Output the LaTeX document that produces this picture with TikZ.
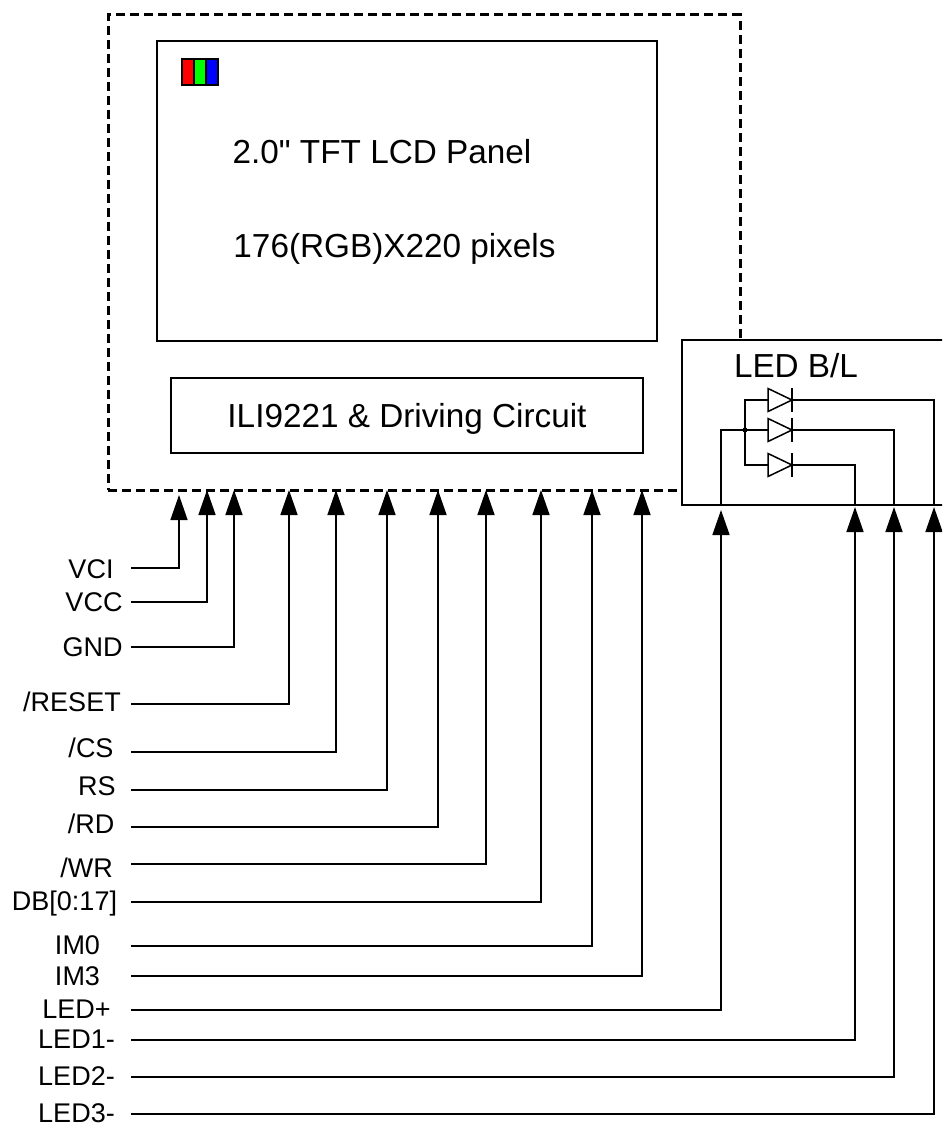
\documentclass[tikz,border=0pt]{standalone}
\usepackage{fontspec}
\setmainfont{Liberation Sans}
\newfontfamily\rawquote{Liberation Sans}
\usepackage{tikz}
\usetikzlibrary{arrows.meta,positioning,shapes.geometric,calc}
\definecolor{StripeRed}{HTML}{FF0000}
\definecolor{StripeGreen}{HTML}{00FF00}
\definecolor{StripeBlue}{HTML}{0000FF}
\tikzset{
  boxed/.style={draw=black, line width=1.5pt, inner sep=0pt, outer sep=0pt},
  pin/.style={font=\fontsize{27}{27}\selectfont, inner sep=0pt, text height=19.3pt, text depth=0pt},
  title/.style={font=\fontsize{33.3}{33.3}\selectfont, inner sep=0pt, text height=23.8pt, text depth=0pt},
  stripe/.style={draw=black, line width=1.2pt, inner sep=0pt, outer sep=0pt, minimum width=12pt, minimum height=26pt},
  wire/.style={line width=1.5pt, -{Triangle[length=25pt,width=17pt]}},
  trace/.style={line width=1.5pt},
  diode/.style={draw=black, line width=1.5pt, isosceles triangle, isosceles triangle stretches, inner sep=0pt, outer sep=0pt, minimum width=23pt, minimum height=24pt, anchor=lower side}
}
\begin{document}
\begin{tikzpicture}[x=1pt,y=-1pt]
\useasboundingbox (0,0) rectangle (942,1126);
\clip (0,0) rectangle (942,1126);
% module outline, the backlight box sits on top of it
\node[boxed, line width=3pt, dash pattern=on 9pt off 5pt, minimum width=632pt, minimum height=475pt] (module) at (424,252.5) {};
\node[boxed, minimum width=500pt, minimum height=300pt] (panel) at (407,191) {};
\node[stripe, fill=StripeRed] (red) at (188,72) {};
\node[stripe, fill=StripeGreen, right=0pt of red] (green) {};
\node[stripe, fill=StripeBlue, right=0pt of green] (blue) {};
\node[title] (paneltitle) at (382,152) {2.0{\rawquote"} TFT LCD Panel};
\node[title] (panelres) at (394.5,246) {176(RGB)X220 pixels};
\node[boxed, title, minimum width=472pt, minimum height=75pt] (driver) at (407,415.5) {ILI9221 \& Driving Circuit};
\node[boxed, fill=white, minimum width=300pt, minimum height=165pt] (ledbox) at (832,422.5) {};
\node[title] (ledtitle) at (796,366) {LED B/L};
% diodes
\node[diode] (d1) at (768,400) {};
\node[diode] (d2) at (768,430) {};
\node[diode] (d3) at (768,465) {};
\draw[trace] ($(d1.apex)+(0,-12)$) -- ($(d1.apex)+(0,12)$);
\draw[trace] ($(d2.apex)+(0,-12)$) -- ($(d2.apex)+(0,12)$);
\draw[trace] ($(d3.apex)+(0,-12)$) -- ($(d3.apex)+(0,12)$);
\coordinate (anode) at (745,430);
\fill (anode) circle (2.5pt);
\draw[trace] (d1.lower side) -| (anode);
\draw[trace] (d3.lower side) -| (anode);
\draw[trace] (anode) -- (d2.lower side);
\coordinate (ledpin) at (721,505);
\coordinate (k1pin) at (934,505);
\coordinate (k2pin) at (894,505);
\coordinate (k3pin) at (855,505);
\draw[trace] (ledpin) |- (anode);
\draw[trace] (d1.apex) -| (k1pin);
\draw[trace] (d2.apex) -| (k2pin);
\draw[trace] (d3.apex) -| (k3pin);
% pins
\node[pin] (vci) at (91,569) {VCI};
\node[pin] (vcc) at (94,602) {VCC};
\node[pin] (gnd) at (92.5,647) {GND};
\node[pin] (reset) at (72,702) {/RESET};
\node[pin] (cs) at (91,748) {/CS};
\node[pin] (rs) at (97,786) {RS};
\node[pin] (rd) at (91,824) {/RD};
\node[pin] (wr) at (86.5,868) {/WR};
\node[pin] (db) at (64.5,901) {DB[0:17]};
\node[pin] (imzero) at (77.5,944.5) {IM0};
\node[pin] (imthree) at (77.5,975.5) {IM3};
\node[pin] (ledp) at (76.5,1008.5) {LED+};
\node[pin] (ledone) at (76.5,1038.5) {LED1-};
\node[pin] (ledtwo) at (76.5,1076) {LED2-};
\node[pin] (ledthree) at (76.5,1113) {LED3-};
\coordinate (vcis) at (131,568); \coordinate (vcit) at (179,495);
\coordinate (vccs) at (131,602); \coordinate (vcct) at (207,490);
\coordinate (gnds) at (131,647); \coordinate (gndt) at (234,490);
\coordinate (resets) at (131,704); \coordinate (resett) at (289,490);
\coordinate (css) at (131,752); \coordinate (cst) at (336,490);
\coordinate (rss) at (131,790); \coordinate (rst) at (387,490);
\coordinate (rds) at (131,827); \coordinate (rdt) at (438,490);
\coordinate (wrs) at (131,864); \coordinate (wrt) at (486,490);
\coordinate (dbs) at (131,902); \coordinate (dbt) at (541,490);
\coordinate (imzeros) at (131,946); \coordinate (imzerot) at (592,490);
\coordinate (imthrees) at (131,976); \coordinate (imthreet) at (642,490);
\coordinate (ledps) at (131,1010); \coordinate (ledpt) at (721,510);
\coordinate (ledones) at (131,1040); \coordinate (ledonet) at (855,507);
\coordinate (ledtwos) at (131,1077); \coordinate (ledtwot) at (894,507);
\coordinate (ledthrees) at (131,1114); \coordinate (ledthreet) at (934,507);
\draw[wire] (vcis) -| (vcit);
\draw[wire] (vccs) -| (vcct);
\draw[wire] (gnds) -| (gndt);
\draw[wire] (resets) -| (resett);
\draw[wire] (css) -| (cst);
\draw[wire] (rss) -| (rst);
\draw[wire] (rds) -| (rdt);
\draw[wire] (wrs) -| (wrt);
\draw[wire] (dbs) -| (dbt);
\draw[wire] (imzeros) -| (imzerot);
\draw[wire] (imthrees) -| (imthreet);
\draw[wire] (ledps) -| (ledpt);
\draw[wire] (ledones) -| (ledonet);
\draw[wire] (ledtwos) -| (ledtwot);
\draw[wire] (ledthrees) -| (ledthreet);
\end{tikzpicture}
\end{document}
